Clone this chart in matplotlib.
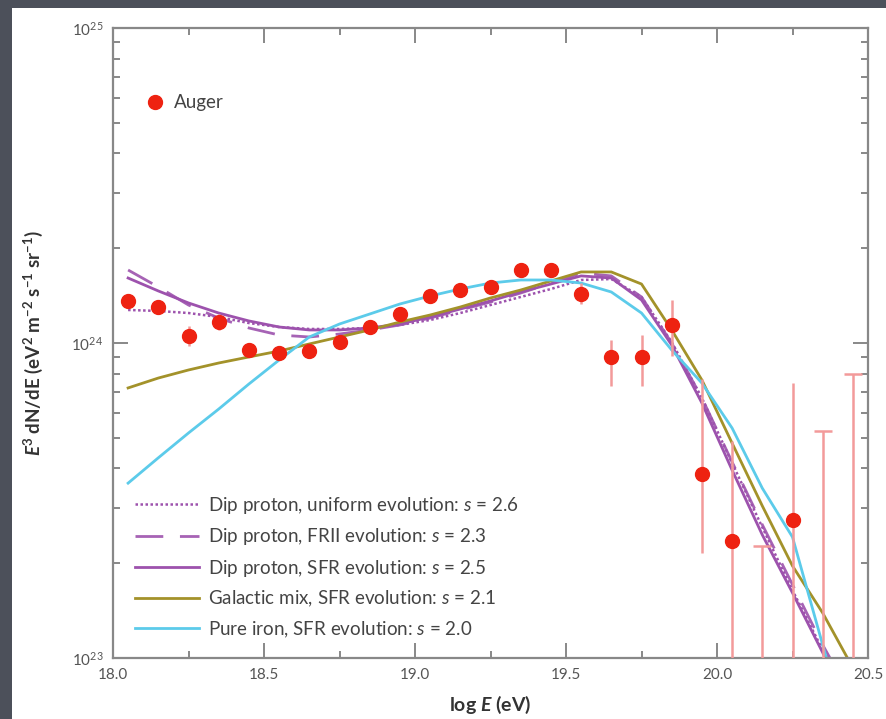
import matplotlib
matplotlib.use("Agg")
import matplotlib.pyplot as plt
from matplotlib.patches import Rectangle
from matplotlib.lines import Line2D
from matplotlib.ticker import LogLocator, MultipleLocator, NullFormatter
import numpy as np

plt.rcParams['font.family'] = ['Lato', 'DejaVu Sans']
plt.rcParams['mathtext.fontset'] = 'custom'
plt.rcParams['mathtext.rm'] = 'Lato'
plt.rcParams['mathtext.it'] = 'Lato:italic'
plt.rcParams['mathtext.bf'] = 'Lato:bold'
plt.rcParams['mathtext.bfit'] = 'Lato:bold:italic'

# values in units of 1e24 eV^2 m^-2 s^-1 sr^-1
scale = 1e24

log_e = [18.05, 18.15, 18.25, 18.35, 18.45, 18.55, 18.65, 18.75, 18.85, 18.95,
         19.05, 19.15, 19.25, 19.35, 19.45, 19.55, 19.65, 19.75, 19.85, 19.95,
         20.05, 20.15, 20.25, 20.35, 20.45]

dip_uniform = [1.273, 1.264, 1.245, 1.209, 1.157, 1.124, 1.108, 1.108, 1.116, 1.141,
               1.183, 1.245, 1.320, 1.400, 1.484, 1.585, 1.596, 1.400, 1.007, 0.669,
               0.416, 0.260, 0.164, 0.106, 0.071]
dip_frii = [1.705, 1.506, 1.320, 1.200, 1.116, 1.060, 1.045, 1.068, 1.100, 1.141,
            1.200, 1.273, 1.349, 1.441, 1.550, 1.668, 1.633, 1.400, 1.000, 0.669,
            0.419, 0.265, 0.171, 0.110, 0.074]
dip_sfr = [1.608, 1.463, 1.340, 1.245, 1.175, 1.124, 1.100, 1.100, 1.116, 1.149,
           1.209, 1.282, 1.360, 1.452, 1.539, 1.633, 1.608, 1.370, 0.985, 0.645,
           0.395, 0.246, 0.161, 0.104, 0.066]
galactic_mix = [0.720, 0.774, 0.821, 0.864, 0.903, 0.943, 0.993, 1.045, 1.100, 1.166,
                1.227, 1.301, 1.390, 1.473, 1.574, 1.681, 1.681, 1.539, 1.100, 0.763,
                0.481, 0.304, 0.196, 0.139, 0.093]
pure_iron = [0.359, 0.432, 0.518, 0.617, 0.741, 0.883, 1.045, 1.149, 1.236, 1.330,
             1.410, 1.484, 1.550, 1.585, 1.585, 1.550, 1.452, 1.245, 0.950, 0.746,
             0.537, 0.346, 0.242, 0.110, 0.050]

# Auger measurements
auger_x = [18.05, 18.15, 18.25, 18.35, 18.45, 18.55, 18.65, 18.75, 18.85, 18.95,
           19.05, 19.15, 19.25, 19.35, 19.45, 19.55, 19.65, 19.75, 19.85, 19.95,
           20.05, 20.25]
auger_y = [1.36, 1.30, 1.05, 1.17, 0.95, 0.93, 0.94, 1.01, 1.12, 1.24,
           1.41, 1.47, 1.51, 1.71, 1.70, 1.43, 0.90, 0.90, 1.14, 0.384,
           0.235, 0.274]
auger_lo = [1.31, 1.25, 0.98, 1.10, 0.92, 0.91, 0.92, 0.99, 1.10, 1.21,
            1.38, 1.43, 1.47, 1.66, 1.64, 1.33, 0.73, 0.73, 0.91, 0.216,
            0.05, 0.05]
auger_hi = [1.42, 1.35, 1.13, 1.24, 0.98, 0.95, 0.96, 1.03, 1.14, 1.27,
            1.44, 1.51, 1.55, 1.76, 1.76, 1.55, 1.02, 1.06, 1.37, 0.77,
            0.49, 0.746]
# upper limits (no detected point)
limit_x = [20.15, 20.35, 20.45]
limit_y = [0.227, 0.526, 0.80]

red = '#ee2211'
err_col = '#f39a9a'
purple = '#9d52ad'
olive = '#a3922a'
cyan = '#5ccbea'
grey = '#888888'

fig = plt.figure(figsize=(8.86, 7.19), dpi=100)
fig.patch.set_facecolor('#4c505a')
fig.add_artist(Rectangle((12 / 886, 0), 1, 1 - 8 / 719, transform=fig.transFigure,
                         facecolor='white', edgecolor='none', zorder=0))

ax = fig.add_axes([113 / 886, 1 - 658 / 719, 755 / 886, 630 / 719])
ax.set_facecolor('white')

xe = np.array(log_e)
ax.plot(xe, np.array(dip_uniform) * scale, color=purple, lw=1.8, ls=(0, (1, 1)),
        label='Dip proton, uniform evolution: $s$ = 2.6')
ax.plot(xe, np.array(dip_frii) * scale, color=purple, lw=2.0, ls=(0, (10, 6)),
        label='Dip proton, FRII evolution: $s$ = 2.3', alpha=0.9)
ax.plot(xe, np.array(dip_sfr) * scale, color=purple, lw=2.0,
        label='Dip proton, SFR evolution: $s$ = 2.5')
ax.plot(xe, np.array(galactic_mix) * scale, color=olive, lw=2.0,
        label='Galactic mix, SFR evolution: $s$ = 2.1')
ax.plot(xe, np.array(pure_iron) * scale, color=cyan, lw=2.0,
        label='Pure iron, SFR evolution: $s$ = 2.0')

ay = np.array(auger_y) * scale
yerr = [ay - np.array(auger_lo) * scale, np.array(auger_hi) * scale - ay]
ax.errorbar(auger_x, ay, yerr=yerr, fmt='o', color=red, ms=10, mec=red,
            ecolor=err_col, elinewidth=1.8, capsize=0, zorder=5)
ax.vlines(limit_x, 0.05 * scale, np.array(limit_y) * scale, color=err_col, lw=1.8, zorder=4)
ax.plot(limit_x, np.array(limit_y) * scale, ls='none', marker='_', ms=13,
        mew=1.8, color=err_col, zorder=4)

ax.set_yscale('log')
ax.set_xlim(18.0, 20.5)
ax.set_ylim(1e23, 1e25)

ax.xaxis.set_major_locator(MultipleLocator(0.5))
ax.xaxis.set_minor_locator(MultipleLocator(0.25))
ax.xaxis.set_major_formatter(plt.FormatStrFormatter('%.1f'))
ax.yaxis.set_major_locator(LogLocator(base=10))
ax.yaxis.set_minor_locator(LogLocator(base=10, subs=np.arange(2, 10)))
ax.yaxis.set_minor_formatter(NullFormatter())

ax.tick_params(which='both', direction='in', top=True, right=True, color=grey,
               labelcolor='#555555', labelsize=11, pad=7)
ax.tick_params(which='major', length=11, width=1.4)
ax.tick_params(which='minor', length=5, width=1.4)
for sp in ax.spines.values():
    sp.set_color(grey)
    sp.set_linewidth(1.6)

ax.set_xlabel(r'log $\mathbfit{E}$ (eV)', fontsize=14, fontweight='bold', color='#333333',
              labelpad=9)
ax.set_ylabel(r'$\mathbfit{E}^{\mathbf{3}}$ dN/d$\mathbf{E}$ (eV$^{\mathbf{2}}$ m$^{\mathbf{-2}}$ '
              r's$^{\mathbf{-1}}$ sr$^{\mathbf{-1}}$)',
              fontsize=13.5, fontweight='bold', color='#333333')
ax.yaxis.set_label_coords(-0.09, 0.5)

leg_lines = ax.legend(loc='center left', bbox_to_anchor=(0.029, 0.144), frameon=False,
                      fontsize=13.5, handlelength=3.4, handletextpad=0.48,
                      labelspacing=0.55, borderpad=0, borderaxespad=0,
                      labelcolor='#444444')
ax.add_artist(leg_lines)

auger_handle = Line2D([], [], ls='none', marker='o', ms=10, color=red)
ax.legend([auger_handle], ['Auger'], loc='center left', bbox_to_anchor=(0.043, 0.881),
          frameon=False, fontsize=13.5, handlelength=1.0, handletextpad=0.5,
          borderpad=0, borderaxespad=0, labelcolor='#444444')

fig.savefig('out.png', dpi=100, facecolor=fig.get_facecolor())
